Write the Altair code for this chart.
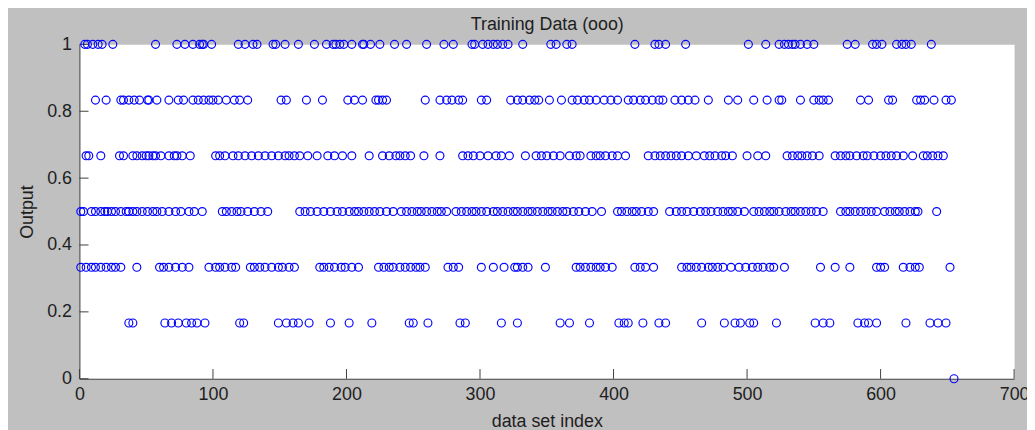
import altair as alt
import pandas as pd

# data set indices, grouped by output level
idx_level_6 = [4, 6, 10, 14, 17, 25, 57, 73, 79, 85, 90, 92, 93, 99, 119, 124, 130, 133,
               145, 147, 154, 164, 176, 185, 190, 192, 195, 198, 204, 212, 213, 218, 225,
               236, 245, 260, 273, 280, 294, 296, 302, 306, 310, 313, 317, 321, 332, 353,
               357, 365, 369, 416, 431, 434, 439, 454, 501, 514, 524, 528, 531, 534, 536,
               540, 545, 550, 575, 581, 594, 597, 601, 612, 616, 619, 623, 638]
idx_level_5 = [12, 20, 31, 33, 37, 41, 45, 51, 52, 58, 67, 74, 78, 85, 89, 93, 97, 100, 104,
               110, 116, 120, 126, 151, 155, 170, 182, 201, 206, 212, 222, 224, 227, 230,
               259, 270, 275, 279, 284, 287, 301, 305, 323, 328, 332, 337, 341, 344, 352,
               361, 369, 373, 378, 382, 387, 393, 398, 403, 411, 415, 420, 424, 429, 434,
               437, 446, 451, 456, 461, 471, 486, 493, 505, 515, 524, 526, 540, 550, 554,
               557, 561, 585, 591, 606, 609, 627, 630, 633, 640, 649, 653]
idx_level_4 = [5, 7, 16, 30, 33, 40, 43, 47, 50, 52, 55, 57, 61, 67, 71, 73, 77, 83, 102,
               105, 109, 115, 119, 124, 129, 134, 139, 144, 149, 154, 157, 161, 165, 171,
               178, 186, 191, 197, 204, 217, 227, 232, 237, 240, 244, 248, 258, 270, 287,
               291, 295, 300, 306, 312, 316, 322, 334, 342, 346, 350, 355, 360, 367, 372,
               375, 383, 387, 390, 394, 399, 403, 409, 426, 431, 435, 439, 443, 447, 451,
               456, 462, 468, 472, 476, 481, 484, 489, 500, 508, 514, 530, 534, 538, 541,
               545, 549, 554, 566, 570, 574, 577, 582, 587, 590, 595, 600, 604, 608, 612,
               617, 624, 632, 635, 639, 643, 647]
idx_level_3 = [1, 3, 9, 12, 16, 19, 21, 24, 27, 31, 35, 37, 40, 43, 47, 51, 55, 58, 62, 67,
               72, 76, 82, 86, 92, 107, 110, 114, 118, 121, 126, 131, 136, 141, 165, 169,
               173, 178, 183, 188, 193, 197, 202, 206, 209, 213, 217, 221, 225, 230, 235,
               241, 245, 249, 253, 256, 260, 264, 268, 271, 275, 282, 286, 290, 294, 297,
               301, 305, 310, 313, 317, 321, 325, 328, 332, 336, 339, 343, 347, 351, 354,
               358, 362, 365, 370, 374, 379, 384, 391, 403, 406, 410, 414, 417, 421, 426,
               430, 442, 447, 451, 455, 460, 465, 469, 473, 478, 482, 486, 489, 493, 498,
               505, 509, 513, 517, 520, 524, 529, 533, 536, 540, 544, 548, 552, 557, 570,
               574, 577, 581, 585, 589, 593, 597, 603, 607, 611, 614, 618, 622, 626, 628, 642]
idx_level_2 = [1, 5, 9, 12, 16, 20, 24, 27, 31, 43, 60, 63, 67, 72, 77, 82, 97, 102, 105,
               109, 114, 117, 128, 131, 135, 139, 144, 149, 152, 157, 161, 180, 183, 187,
               191, 196, 199, 204, 209, 224, 228, 232, 235, 240, 244, 248, 252, 255, 259,
               276, 280, 284, 301, 310, 318, 326, 328, 332, 336, 349, 372, 375, 379, 383,
               387, 390, 394, 399, 416, 420, 424, 430, 451, 455, 458, 462, 466, 471, 474,
               478, 482, 488, 494, 499, 504, 508, 512, 517, 520, 528, 555, 566, 577, 597,
               600, 603, 617, 622, 626, 629, 652]
idx_level_1 = [37, 40, 64, 69, 74, 80, 84, 88, 94, 120, 123, 149, 155, 160, 164, 172, 188,
               202, 219, 247, 250, 261, 285, 289, 316, 328, 360, 367, 382, 404, 408, 411,
               422, 434, 439, 466, 483, 491, 495, 502, 505, 522, 551, 557, 562, 583, 588,
               591, 597, 619, 637, 643, 649]
idx_level_0 = [655]

x_ticks = [0, 100, 200, 300, 400, 500, 600, 700]
y_ticks = [0, 0.2, 0.4, 0.6, 0.8, 1]

groups = [(6, idx_level_6), (5, idx_level_5), (4, idx_level_4), (3, idx_level_3),
          (2, idx_level_2), (1, idx_level_1), (0, idx_level_0)]
rows = [{"index": i, "output": k / 6} for k, lst in groups for i in lst]
df = pd.DataFrame(rows)

FONT = "Liberation Sans"
TXT = "#1e1e1e"
AX = "#404040"

x_scale = alt.Scale(domain=[0, 700], nice=False, zero=False)
y_scale = alt.Scale(domain=[0, 1], nice=False, zero=False)

y_axis = alt.Axis(values=y_ticks, format=".1~f", title="Output", ticks=False,
                  tickSize=0, grid=False, domainColor=AX, domainWidth=1,
                  labelFont=FONT, labelFontSize=18, labelColor=TXT, labelPadding=8,
                  labelFlush=False,
                  titleFont=FONT, titleFontSize=18, titleFontWeight="normal",
                  titleColor=TXT, titleAngle=270, titleBaseline="alphabetic",
                  titleAlign="center", titleX=-47, titleY=168.5)

points = alt.Chart(df).mark_point(
    shape="circle", filled=False, size=64, strokeWidth=1.15, color="#0000ff", opacity=1
).encode(
    x=alt.X("index:Q", scale=x_scale,
            axis=alt.Axis(orient="bottom", values=x_ticks, title="data set index",
                          ticks=False, tickSize=0,
                          grid=False, domainColor=AX, domainWidth=1,
                          labelFont=FONT, labelFontSize=18, labelColor=TXT, labelPadding=7,
                          labelFlush=False,
                          titleFont=FONT, titleFontSize=18, titleFontWeight="normal",
                          titleColor=TXT, titleBaseline="alphabetic", titleY=48)),
    y=alt.Y("output:Q", scale=y_scale, axis=y_axis),
)

# inward tick marks (MATLAB style); the top axis carries the chart title
xt = alt.Chart(pd.DataFrame({"t": x_ticks})).mark_rule(
    strokeWidth=1, color=AX, opacity=1
).encode(
    x=alt.X("t:Q", scale=x_scale,
            axis=alt.Axis(orient="top", title="Training Data (ooo)", labels=False,
                          ticks=False, domain=False, grid=False,
                          titleFont=FONT, titleFontSize=18, titleFontWeight="normal",
                          titleColor=TXT, titleBaseline="alphabetic", titleAlign="center",
                          titleX=471, titleY=-15)),
    y=alt.datum(0),
    y2=alt.datum(0.029),
)

yt = alt.Chart(pd.DataFrame({"t": y_ticks})).mark_rule(
    strokeWidth=1, color=AX, opacity=1
).encode(
    y=alt.Y("t:Q", scale=y_scale, axis=y_axis),
    x=alt.XDatum(0, axis=None),
    x2=alt.datum(6.8),
)

chart = alt.layer(xt, yt, points).resolve_axis(x="independent").properties(
    width=942, height=337,
    padding={"left": 72, "top": 35, "right": 13, "bottom": 50},
    autosize=alt.AutoSizeParams(type="none"),
    background="#c0c0c0",
).configure_view(fill="white", stroke="transparent")

chart.save("out.html", embed_options={"renderer": "svg", "actions": False})
